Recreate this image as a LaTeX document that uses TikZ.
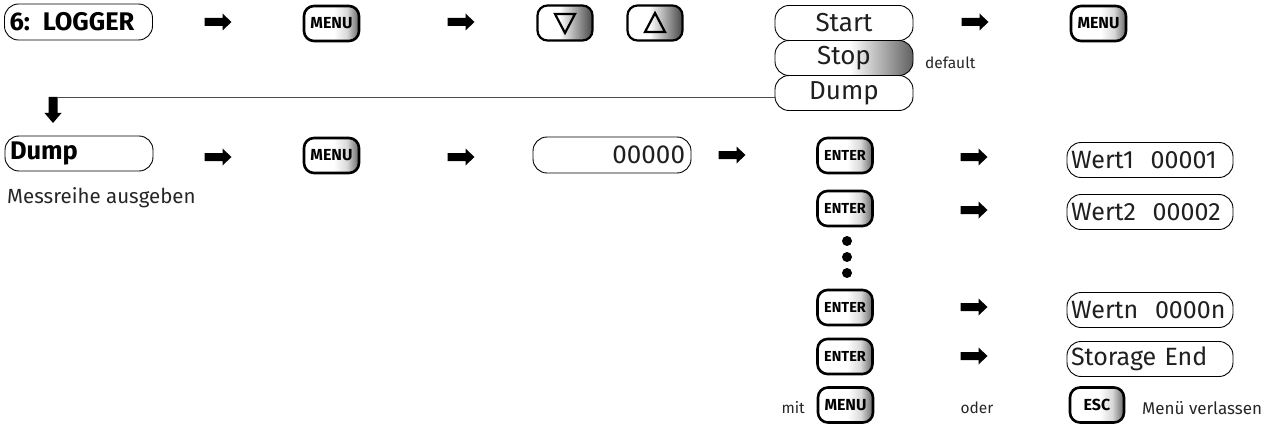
\documentclass[tikz,border=0pt]{standalone}
\usepackage{fontspec}
\setmainfont{Fira Sans}
\pgfdeclarehorizontalshading{btnshade}{100bp}{color(0bp)=(white); color(25bp)=(white); color(52bp)=(white); color(64bp)=(black!15); color(75bp)=(black!60); color(100bp)=(black!60)}
\pgfdeclarehorizontalshading{navshade}{100bp}{color(0bp)=(white); color(25bp)=(white); color(45bp)=(white); color(75bp)=(black!72); color(100bp)=(black!72)}
\pgfdeclarehorizontalshading{stopshade}{100bp}{color(0bp)=(white); color(25bp)=(white); color(52bp)=(white); color(75bp)=(black!62); color(100bp)=(black!62)}
\tikzset{
  lcd/.style={draw, line width=0.9pt, rounded corners=14pt, minimum height=35pt, inner sep=0pt, text=black!88, font=\fontsize{26}{26}\selectfont},
  lcdbold/.style={lcd, text=black, font=\fontsize{25.5}{25.5}\selectfont\bfseries, text width=138pt, inner xsep=5pt, align=left},
  lcdleft/.style={lcd, font=\fontsize{25}{25}\selectfont, text width=158pt, inner xsep=4pt, align=left},
  btn/.style={draw, line width=2.6pt, rounded corners=10pt, minimum width=55pt, minimum height=35pt, inner sep=0pt, shading=btnshade, font=\fontsize{16}{16}\selectfont\bfseries},
  enterbtn/.style={btn, font=\fontsize{14.5}{14.5}\selectfont\bfseries},
  navbtn/.style={btn, line width=2.2pt, shading=navshade},
  small/.style={font=\fontsize{15.5}{15.5}\selectfont, text=black!85, inner sep=0pt},
  rarrow/.pic={\fill (-13.5,-4) -- (4.5,-4) -- (4.5,-8.5) -- (13.5,0) -- (4.5,8.5) -- (4.5,4) -- (-13.5,4) -- cycle;},
  darrow/.pic={\fill (-4.5,0) -- (4.5,0) -- (4.5,16) -- (8.5,16) -- (0,26) -- (-8.5,16) -- (-4.5,16) -- cycle;},
  tri/.style={line width=2.2pt, line join=miter}
}
\begin{document}
\begin{tikzpicture}[x=1pt,y=-1pt]
\useasboundingbox (0,0) rectangle (1268,425);
% row 1
\node[lcdbold, minimum height=36pt] (logger) at (78.5,22) {6: LOGGER};
\pic at (218,22) {rarrow};
\node[btn] (menu1) at (331.5,23.5) {MENU};
\pic at (461,22) {rarrow};
\node[navbtn] (down) at (565,23) {};
\draw[tri, shift={(down.center)}] (-10,-9) -- (10,-9) -- (0,10) -- cycle;
\node[navbtn] (up) at (655,23) {};
\draw[tri, shift={(up.center)}] (-10,9) -- (10,9) -- (0,-10) -- cycle;
\node[lcd, minimum width=138pt] (start) at (844,23) {Start};
\node[lcd, minimum width=138pt, shading=stopshade] (stop) at (844,58) {Stop};
\node[lcd, minimum width=138pt] (dumpS) at (844,93) {Dump};
\node[small, anchor=west] (default) at (925,63) {default};
\pic at (975,22) {rarrow};
\node[btn] (menu2) at (1098.5,23.5) {MENU};
% return line
\pic at (53,97) {darrow};
\coordinate (lstart) at (57.5,97);
\draw[line width=0.9pt, black!70] (lstart) -- (lstart -| dumpS.west);
% row 2
\node[lcdbold] (dumpL) at (79,153.5) {Dump};
\node[font=\fontsize{20.5}{20.5}\selectfont, text=black!85, anchor=west, inner sep=0pt] (mess) at (7,198) {Messreihe ausgeben};
\pic at (218,157) {rarrow};
\node[btn] (menu3) at (331.5,155.5) {MENU};
\pic at (461,157) {rarrow};
\node[lcd, minimum width=158pt, minimum height=36pt, text width=146pt, align=right] (zero) at (612,155) {00000};
\pic at (732,155) {rarrow};
\node[enterbtn] (enter1) at (845,155.5) {ENTER};
\node[enterbtn] (enter2) at (845,208.5) {ENTER};
\fill (847,241) circle[radius=5pt];
\fill (847,257) circle[radius=5pt];
\fill (847,273) circle[radius=5pt];
\node[enterbtn] (enter3) at (845,307.5) {ENTER};
\node[enterbtn] (enter4) at (845,356.5) {ENTER};
\node[btn] (menu4) at (845.5,405) {MENU};
\node[small, anchor=east] (mit) at (805,408) {mit};
\node[small] (oder) at (977,408) {oder};
\node[btn, minimum width=54pt] (esc) at (1097,405) {ESC};
\node[small, font=\fontsize{17}{17}\selectfont, anchor=west] (verl) at (1142,408) {Menü verlassen};
\pic at (974,157) {rarrow};
\pic at (974,210) {rarrow};
\pic at (974,307) {rarrow};
\pic at (974,356) {rarrow};
\node[lcdleft] (w1) at (1150,160) {Wert1\ \ 00001};
\node[lcdleft] (w2) at (1150,212) {Wert2\ \ 00002};
\node[lcdleft] (wn) at (1150,310) {Wertn\ \ 0000n};
\node[lcdleft] (se) at (1150,359) {Storage End};
\end{tikzpicture}
\end{document}
